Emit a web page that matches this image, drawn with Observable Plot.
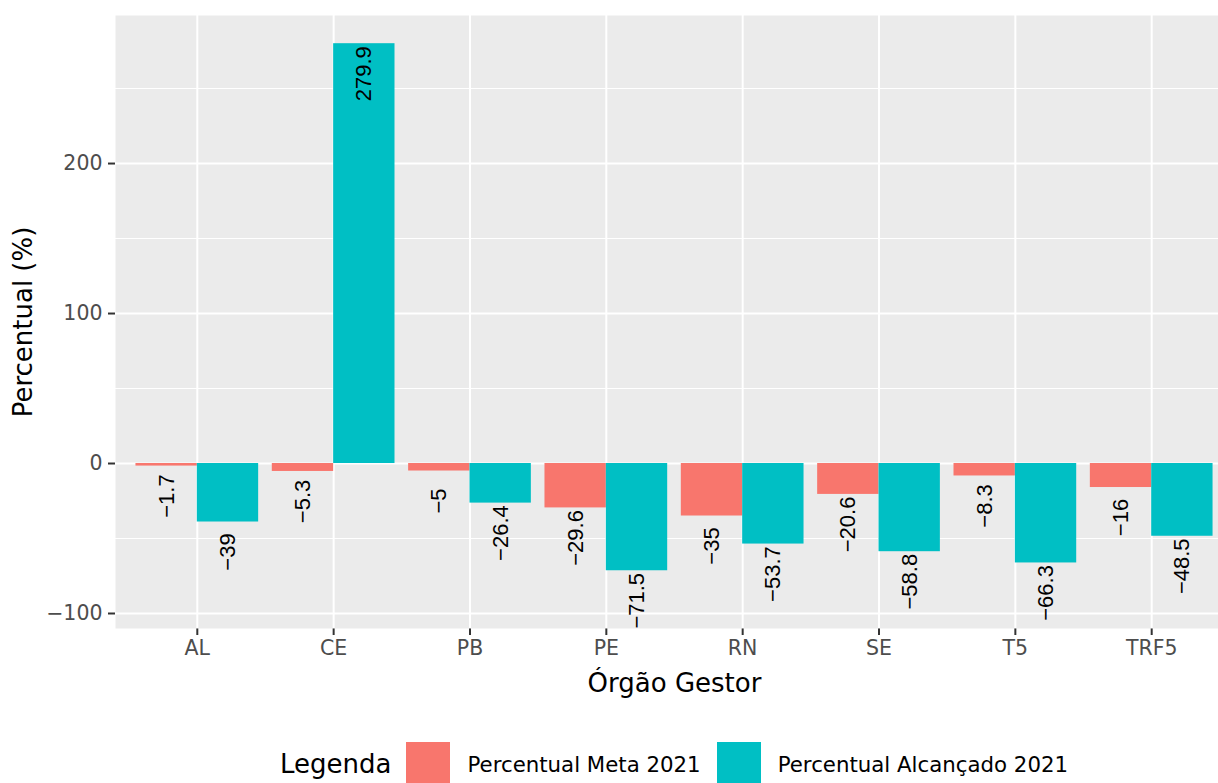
<!DOCTYPE html>
<html>
<head>
<meta charset="utf-8">
<script src="https://cdn.jsdelivr.net/npm/d3@7"></script>
<script src="https://cdn.jsdelivr.net/npm/@observablehq/plot@0.6"></script>
<style>
  body { margin: 0; background: #fff; overflow: hidden; font-family: "DejaVu Sans", sans-serif; }
  #chart svg [aria-label$="tick label"], #chart svg [aria-label$="tick label"] text { fill: #4D4D4D; }
  #chart svg [aria-label$="-axis tick"] { stroke: #333333; stroke-width: 2; }
  .legend { height: 83px; box-sizing: border-box; padding-top: 45px; padding-left: 280px; display: flex; align-items: center; white-space: nowrap; }
  .legend .title { font-size: 26px; color: #000; margin-right: 15px; }
  .legend .key { width: 44px; height: 44px; flex: none; }
  .legend .lab { font-size: 21.3px; color: #000; margin-left: 17px; margin-right: 16px; }
</style>
</head>
<body>
<div id="chart"></div>
<script>
// dados
const orgaos = ["AL", "CE", "PB", "PE", "RN", "SE", "T5", "TRF5"];
const meta2021 = [-1.7, -5.3, -5, -29.6, -35, -20.6, -8.3, -16];
const alcancado2021 = [-39, 279.9, -26.4, -71.5, -53.7, -58.8, -66.3, -48.5];
const series = ["Percentual Meta 2021", "Percentual Alcançado 2021"];
const cores = ["#F8766D", "#00BFC4"];
const yTicks = [-100, 0, 100, 200];
const yMinor = [-50, 50, 150, 250];

const rows = orgaos.flatMap((o, i) => [
  {orgao: o, serie: series[0], valor: meta2021[i]},
  {orgao: o, serie: series[1], valor: alcancado2021[i]}
]);

const W = 1233, ML = 115;
const step = (W - ML) / (orgaos.length - 0.1 + 0.3);
const half = step * 0.9 / 2;
const fmt = d3.format("");

const chart = Plot.plot({
  width: W,
  height: 700,
  marginLeft: ML,
  marginRight: 0,
  marginTop: 15,
  marginBottom: 72,
  style: {fontFamily: "DejaVu Sans", fontSize: "20.5px", background: "white", maxWidth: "none", overflow: "visible"},
  x: {domain: orgaos, paddingInner: 0.1, paddingOuter: 0.15, round: false, label: null, tickSize: 7, tickPadding: 5},
  y: {domain: [-110, 298.7], ticks: yTicks, label: null, tickSize: 7, tickPadding: 6},
  marks: [
    Plot.frame({fill: "#EBEBEB", stroke: null}),
    Plot.ruleY(yMinor, {stroke: "white", strokeWidth: 1}),
    Plot.ruleY(yTicks, {stroke: "white", strokeWidth: 2}),
    Plot.ruleX(orgaos, {stroke: "white", strokeWidth: 2}),
    Plot.barY(rows.filter(d => d.serie === series[0]), {x: "orgao", y: "valor", fill: cores[0], insetRight: half}),
    Plot.barY(rows.filter(d => d.serie === series[1]), {x: "orgao", y: "valor", fill: cores[1], insetLeft: half}),
    Plot.text(rows.filter(d => d.serie === series[0]), {x: "orgao", y: "valor", text: d => fmt(d.valor), dx: -half / 2, dy: 30, rotate: -90, textAnchor: "middle", lineAnchor: "middle", fontSize: 22, fontFamily: "Liberation Sans", fill: "black"}),
    Plot.text(rows.filter(d => d.serie === series[1]), {x: "orgao", y: "valor", text: d => fmt(d.valor), dx: half / 2, dy: 30, rotate: -90, textAnchor: "middle", lineAnchor: "middle", fontSize: 22, fontFamily: "Liberation Sans", fill: "black"}),
    Plot.text(["Percentual (%)"], {frameAnchor: "left", dx: -92, rotate: -90, textAnchor: "middle", lineAnchor: "middle", fontSize: 26, fill: "black"}),
    Plot.text(["Órgão Gestor"], {frameAnchor: "bottom", dy: 55, textAnchor: "middle", lineAnchor: "middle", fontSize: 26, fill: "black"})
  ]
});

document.getElementById("chart").append(chart);

// legenda abaixo do gráfico
const leg = d3.select("body").append("div").attr("class", "legend");
leg.append("span").attr("class", "title").text("Legenda");
series.forEach((s, i) => {
  leg.append("span").attr("class", "key").style("background", cores[i]);
  leg.append("span").attr("class", "lab").text(s);
});
</script>
</body>
</html>
